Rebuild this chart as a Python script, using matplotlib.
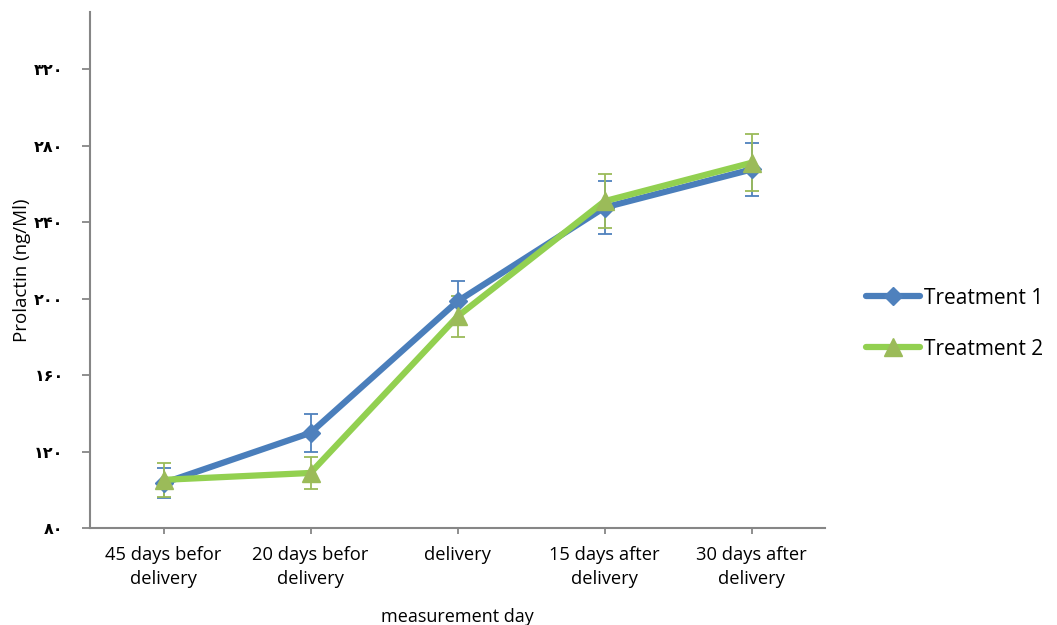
import matplotlib
matplotlib.use('Agg')
import matplotlib.pyplot as plt
import numpy as np

days = ['45 days befor\ndelivery', '20 days befor\ndelivery', 'delivery',
        '15 days after\ndelivery', '30 days after\ndelivery']
t1_mean = [103.5, 129.8, 198.6, 247.7, 267.6]
t1_err = [8.0, 10.0, 10.5, 14.0, 14.0]
t2_mean = [105.2, 108.8, 190.7, 251.0, 271.1]
t2_err = [9.0, 8.5, 10.8, 14.0, 15.0]

y_ticks = [80, 120, 160, 200, 240, 280, 320]
y_tick_labels = ['۸۰', '۱۲۰', '۱۶۰', '۲۰۰', '۲۴۰', '۲۸۰', '۳۲۰']

plt.rcParams['font.family'] = ['Open Sans', 'DejaVu Sans']

fig = plt.figure(figsize=(10.57, 6.25), dpi=100)
ax = fig.add_axes([90 / 1057, 1 - 528 / 625, 735 / 1057, 516 / 625])

x = np.arange(len(days))
blue_line, blue_mark = '#4A7EBB', '#4F81BD'
green_line, green_mark = '#92D050', '#9BBB59'

ax.errorbar(x, t1_mean, yerr=t1_err, fmt='none', ecolor=blue_mark,
            elinewidth=1.3, capsize=5, capthick=1.3, zorder=2)
ax.errorbar(x, t2_mean, yerr=t2_err, fmt='none', ecolor=green_mark,
            elinewidth=1.3, capsize=5, capthick=1.3, zorder=2)
ax.plot(x, t1_mean, color=blue_line, lw=4.5, marker='D', ms=9,
        mfc=blue_mark, mec=blue_mark, label='Treatment 1', zorder=3,
        solid_capstyle='round')
ax.plot(x, t2_mean, color=green_line, lw=4.5, marker='^', ms=13,
        mfc=green_mark, mec=green_mark, label='Treatment 2', zorder=4,
        solid_capstyle='round')

ax.set_xlim(-0.5, 4.5)
ax.set_ylim(80, 350)
ax.set_yticks(y_ticks)
ax.set_yticklabels(y_tick_labels, family='DejaVu Sans', fontweight='bold',
                   fontsize=11.5)
ax.set_xticks(x)
ax.set_xticklabels(days, fontsize=13.2, linespacing=1.45)

for side in ['top', 'right']:
    ax.spines[side].set_visible(False)
for side in ['left', 'bottom']:
    ax.spines[side].set_color('#868686')
    ax.spines[side].set_linewidth(1.5)
ax.tick_params(axis='y', length=6, width=1.3, color='#868686', pad=13)
ax.tick_params(axis='x', length=4, width=1.3, color='#868686', pad=9)

ax.set_ylabel('Prolactin (ng/Ml)', fontsize=13.5)
ax.yaxis.set_label_coords(-0.08, 0.5)
ax.set_xlabel('measurement day', fontsize=13, labelpad=14)

ax.legend(loc='center left', bbox_to_anchor=(1.03, 0.396), frameon=False,
          fontsize=15, handlelength=2.6, labelspacing=1.45, handletextpad=0.2)

fig.savefig('out.png', dpi=100)
